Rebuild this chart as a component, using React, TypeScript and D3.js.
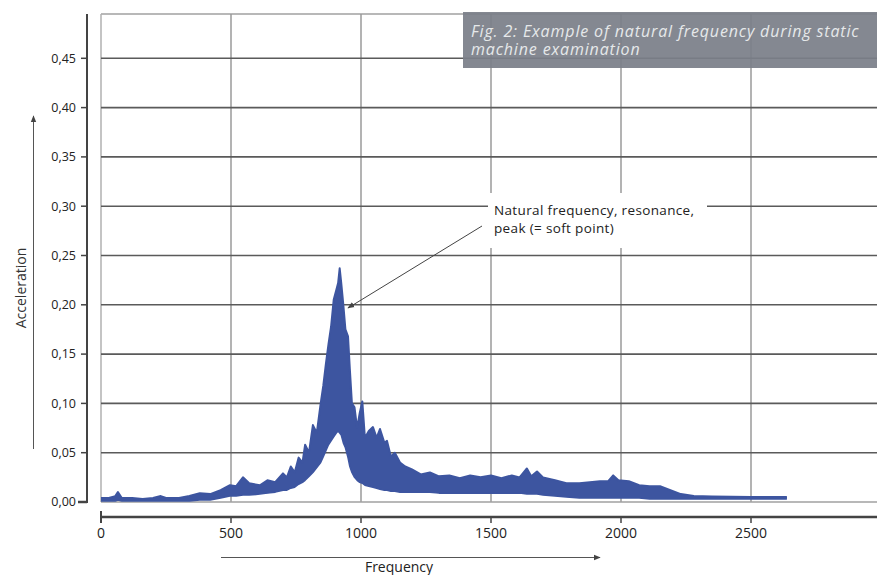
import React from "react";
import * as d3 from "d3";

const W = 877;
const H = 575;

const yTicks = [0, 0.05, 0.1, 0.15, 0.2, 0.25, 0.3, 0.35, 0.4, 0.45];
const yTickLabels = ["0,00", "0,05", "0,10", "0,15", "0,20", "0,25", "0,30", "0,35", "0,40", "0,45"];
const xTicks = [0, 500, 1000, 1500, 2000, 2500];
const xTickLabels = ["0", "500", "1000", "1500", "2000", "2500"];

const freq = [0, 30, 55, 65, 80, 120, 160, 200, 230, 250, 300, 340, 380, 420, 460, 496, 520, 546, 570, 611, 640, 670, 700, 715, 730, 745, 760, 775, 785, 800, 815, 830, 845, 855, 865, 875, 885, 895, 905, 912, 918, 924, 932, 940, 950, 957, 965, 975, 985, 995, 1005, 1015, 1030, 1046, 1060, 1073, 1090, 1100, 1115, 1130, 1150, 1170, 1196, 1230, 1265, 1300, 1340, 1380, 1420, 1460, 1500, 1540, 1580, 1610, 1638, 1655, 1677, 1700, 1746, 1790, 1840, 1880, 1919, 1950, 1970, 1990, 2030, 2070, 2110, 2150, 2190, 2230, 2280, 2350, 2500, 2638];
const upper = [0.004, 0.004, 0.006, 0.010, 0.004, 0.004, 0.003, 0.004, 0.006, 0.004, 0.004, 0.006, 0.009, 0.008, 0.012, 0.017, 0.016, 0.025, 0.019, 0.017, 0.022, 0.020, 0.029, 0.025, 0.036, 0.030, 0.045, 0.040, 0.058, 0.050, 0.078, 0.070, 0.100, 0.118, 0.140, 0.160, 0.178, 0.205, 0.215, 0.222, 0.237, 0.222, 0.200, 0.175, 0.168, 0.135, 0.100, 0.096, 0.075, 0.090, 0.102, 0.065, 0.072, 0.076, 0.065, 0.074, 0.060, 0.062, 0.046, 0.050, 0.040, 0.036, 0.033, 0.028, 0.030, 0.026, 0.027, 0.024, 0.027, 0.025, 0.027, 0.024, 0.027, 0.025, 0.034, 0.026, 0.031, 0.025, 0.022, 0.019, 0.019, 0.020, 0.021, 0.021, 0.027, 0.022, 0.021, 0.017, 0.016, 0.016, 0.012, 0.008, 0.006, 0.0055, 0.005, 0.005];
const lower = [0.001, 0.001, 0.001, 0.002, 0.001, 0.001, 0.001, 0.001, 0.001, 0.001, 0.001, 0.001, 0.002, 0.002, 0.004, 0.006, 0.006, 0.007, 0.007, 0.008, 0.009, 0.010, 0.012, 0.012, 0.014, 0.015, 0.018, 0.020, 0.022, 0.026, 0.030, 0.035, 0.040, 0.046, 0.052, 0.058, 0.062, 0.066, 0.070, 0.072, 0.070, 0.068, 0.060, 0.055, 0.045, 0.036, 0.030, 0.025, 0.022, 0.020, 0.019, 0.017, 0.016, 0.015, 0.014, 0.013, 0.012, 0.012, 0.011, 0.011, 0.010, 0.010, 0.010, 0.010, 0.010, 0.009, 0.009, 0.009, 0.009, 0.009, 0.009, 0.009, 0.009, 0.009, 0.008, 0.008, 0.008, 0.007, 0.006, 0.005, 0.004, 0.004, 0.004, 0.004, 0.004, 0.004, 0.004, 0.004, 0.003, 0.003, 0.003, 0.003, 0.003, 0.003, 0.003, 0.003];

const caption = ["Fig. 2: Example of natural frequency during static", "machine examination"];
const annotation = ["Natural frequency, resonance,", "peak (= soft point)"];
const xTitle = "Frequency";
const yTitle = "Acceleration";

const FONT = "'Open Sans', 'Noto Sans', sans-serif";
const BLUE = "#3d55a0";

export default function App() {
  const x = d3.scaleLinear().domain([0, 500]).range([101, 231]);
  const y = d3.scaleLinear().domain([0, 0.45]).range([502, 58.3]);
  const plotTop = 14;
  const plotRight = W;

  type P = { f: number; u: number; l: number };
  const pts: P[] = freq.map((f, i) => ({ f, u: upper[i], l: lower[i] }));
  const area = d3
    .area<P>()
    .x((d) => x(d.f))
    .y0((d) => y(d.l))
    .y1((d) => y(d.u));
  const lineU = d3
    .line<P>()
    .x((d) => x(d.f))
    .y((d) => y(d.u));
  const lineL = d3
    .line<P>()
    .x((d) => x(d.f))
    .y((d) => y(d.l));

  const xAxisY = 517;
  const yAxisX = 87;

  return (
    <svg
      width={W}
      height={H}
      style={{ position: "absolute", left: 0, top: 0, background: "#fff" }}
      fontFamily={FONT}
    >
      <defs>
        <marker id="ah" viewBox="0 0 10 10" refX="9" refY="5" markerWidth="7" markerHeight="7" orient="auto">
          <path d="M0,1 L10,5 L0,9 z" fill="#444" />
        </marker>
      </defs>

      {/* plot frame */}
      <line x1={101} x2={plotRight} y1={plotTop} y2={plotTop} stroke="#a0a0a0" strokeWidth={1.5} />
      <line x1={101} x2={101} y1={plotTop} y2={y(0)} stroke="#b0b0b0" strokeWidth={1.5} />

      {/* vertical grid */}
      {xTicks.slice(1).map((t) => (
        <line key={"vg" + t} x1={x(t)} x2={x(t)} y1={plotTop} y2={y(0)} stroke="#9a9a9a" strokeWidth={1.5} />
      ))}
      {/* horizontal grid */}
      {yTicks.map((t) => (
        <line
          key={"hg" + t}
          x1={101}
          x2={plotRight}
          y1={y(t)}
          y2={y(t)}
          stroke={t === 0 ? "#a0a0a0" : "#5a5a5a"}
          strokeWidth={t === 0 ? 1.5 : 1.6}
        />
      ))}

      {/* caption box */}
      <rect x={463} y={12} width={W - 463} height={56} fill="#7b7f89" opacity={0.93} />
      {caption.map((c, i) => (
        <text key={c} x={471} y={36.5 + i * 18.8} fontSize={16} fontStyle="italic" fill="#e6e8ea" letterSpacing={0.85}>
          {c}
        </text>
      ))}

      {/* data */}
      <path d={area(pts) || ""} fill={BLUE} />
      <path d={lineU(pts) || ""} fill="none" stroke={BLUE} strokeWidth={2} strokeLinejoin="round" />
      <path d={lineL(pts) || ""} fill="none" stroke={BLUE} strokeWidth={1.5} strokeLinejoin="round" />

      {/* annotation */}
      <rect x={488} y={193} width={219} height={55} fill="#fff" />
      {annotation.map((a, i) => (
        <text key={a} x={494} y={215 + i * 17.5} fontSize={13.5} fill="#222" letterSpacing={0.35}>
          {a}
        </text>
      ))}
      <line x1={482} y1={226} x2={348} y2={308} stroke="#444" strokeWidth={1} markerEnd="url(#ah)" />

      {/* y axis */}
      <line x1={yAxisX} x2={yAxisX} y1={plotTop} y2={y(0) + 1} stroke="#444" strokeWidth={2} />
      {yTicks.map((t, i) => (
        <g key={"yt" + t}>
          <line x1={t === 0 ? 78 : 81} x2={yAxisX} y1={y(t)} y2={y(t)} stroke="#444" strokeWidth={t === 0 ? 2.5 : 1.5} />
          <text x={76} y={y(t)} dy="0.35em" textAnchor="end" fontSize={12.5} fill="#222">
            {yTickLabels[i]}
          </text>
        </g>
      ))}

      {/* x axis */}
      <line x1={101} x2={plotRight} y1={xAxisY} y2={xAxisY} stroke="#444" strokeWidth={2.5} />
      {xTicks.map((t, i) => (
        <g key={"xt" + t}>
          <line
            x1={x(t)}
            x2={x(t)}
            y1={t === 0 ? 511 : xAxisY}
            y2={523}
            stroke="#444"
            strokeWidth={t === 0 ? 2 : 1.5}
          />
          <text x={x(t)} y={538} textAnchor="middle" fontSize={14} fill="#222">
            {xTickLabels[i]}
          </text>
        </g>
      ))}

      {/* axis arrows and titles */}
      <line x1={33.5} x2={33.5} y1={449} y2={116} stroke="#555" strokeWidth={1} markerEnd="url(#ah)" />
      <text transform={`translate(26,288) rotate(-90)`} textAnchor="middle" fontSize={14} fill="#333">
        {yTitle}
      </text>
      <line x1={221} x2={600} y1={557.5} y2={557.5} stroke="#555" strokeWidth={1} markerEnd="url(#ah)" />
      <text x={399} y={572} textAnchor="middle" fontSize={14} fill="#222">
        {xTitle}
      </text>
    </svg>
  );
}
